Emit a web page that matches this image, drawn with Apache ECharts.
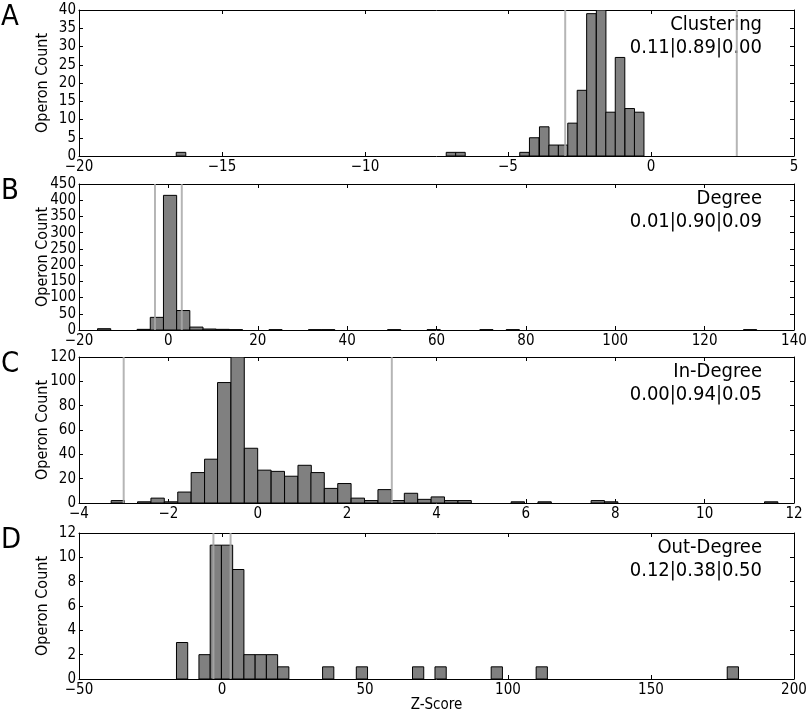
<!DOCTYPE html>
<html>
<head>
<meta charset="utf-8">
<script src="https://cdn.jsdelivr.net/npm/echarts@6/dist/echarts.min.js"></script>
<style>
html,body{margin:0;padding:0;background:#fff;}
#chart{width:810px;height:710px;}
</style>
</head>
<body>
<div id="chart"></div>
<script>
// ---------- DATA ----------
// Panel A: Clustering
const clusterBinWidth = 0.334;
const clusterLefts  = [-16.60, -7.16, -6.83, -4.59, -4.25, -3.90, -3.57, -3.24, -2.91, -2.58, -2.25, -1.91, -1.58, -1.25, -0.91, -0.58];
const clusterCounts = [1, 1, 1, 1, 5, 8, 3, 3, 9, 18, 39, 40, 12, 27, 13, 12];
const clusterThresholds = [-3, 3];
const clusterLabel = ['Clustering', '0.11|0.89|0.00'];

// Panel B: Degree
const degreeBinWidth = 2.95;
const degreeLefts  = [-15.85, -7.0, -4.05, -1.1, 1.85, 4.8, 7.75, 10.7, 13.65, 22.5, 31.35, 34.3, 49.05, 57.9, 69.7, 75.6, 128.7];
const degreeCounts = [4, 2, 39, 415, 60, 9, 3, 2, 1, 1, 1, 1, 1, 1, 1, 1, 1];
const degreeThresholds = [-3, 3];
const degreeLabel = ['Degree', '0.01|0.90|0.09'];

// Panel C: In-Degree
const inBinWidth = 0.2985;
const inLefts  = [-3.28, -2.69, -2.39, -2.09, -1.79, -1.49, -1.19, -0.90, -0.60, -0.30, 0.00, 0.30, 0.60, 0.90, 1.19, 1.49, 1.79, 2.09, 2.39, 2.69, 2.99, 3.28, 3.58, 3.88, 4.18, 4.48, 5.67, 6.27, 7.46, 7.76, 11.34];
const inCounts = [2, 1, 4, 1, 9, 25, 36, 99, 120, 45, 27, 26, 22, 31, 25, 12, 16, 4, 2, 11, 2, 8, 3, 5, 2, 2, 1, 1, 2, 1, 1];
const inThresholds = [-3, 3];
const inLabel = ['In-Degree', '0.00|0.94|0.05'];

// Panel D: Out-Degree
const outBinWidth = 3.93;
const outLefts  = [-15.92, -8.06, -4.13, -0.2, 3.73, 7.66, 11.59, 15.52, 19.45, 35.17, 46.96, 66.61, 74.47, 94.12, 109.84, 176.65];
const outCounts = [3, 2, 11, 11, 9, 2, 2, 2, 1, 1, 1, 1, 1, 1, 1, 1];
const outThresholds = [-3, 3];
const outLabel = ['Out-Degree', '0.12|0.38|0.50'];

// Axis ranges / ticks
const xRanges = [[-20, 5, 5], [-20, 140, 20], [-4, 12, 2], [-50, 200, 50]];
const yRanges = [[0, 40, 5], [0, 450, 50], [0, 120, 20], [0, 12, 2]];
const panelLetters = ['A', 'B', 'C', 'D'];

// ---------- BUILD ----------
const FONT = '"DejaVu Sans Condensed", "DejaVu Sans", sans-serif';
const panels = [
  {lefts: clusterLefts, counts: clusterCounts, w: clusterBinWidth, th: clusterThresholds, label: clusterLabel},
  {lefts: degreeLefts, counts: degreeCounts, w: degreeBinWidth, th: degreeThresholds, label: degreeLabel},
  {lefts: inLefts, counts: inCounts, w: inBinWidth, th: inThresholds, label: inLabel},
  {lefts: outLefts, counts: outCounts, w: outBinWidth, th: outThresholds, label: outLabel}
];
const gridTops = [10, 184, 357, 533];
const gridH = 146;
const gridLeft = 79, gridW = 715;

const fmt = v => String(v).replace('-', '\u2212');

const grids = [], xAxes = [], yAxes = [], series = [], graphics = [];
panels.forEach((p, i) => {
  grids.push({left: gridLeft, width: gridW, top: gridTops[i], height: gridH, show: false,
              containLabel: false, outerBoundsMode: 'none'});
  const [xmin, xmax, xint] = xRanges[i];
  const [ymin, ymax, yint] = yRanges[i];
  const axLine = {show: true, onZero: false, lineStyle: {color: '#000', width: 1}};
  const tick = {show: true, inside: true, length: 4, lineStyle: {color: '#000', width: 1}};
  xAxes.push({
    type: 'value', gridIndex: i, min: xmin, max: xmax, interval: xint, position: 'bottom',
    axisLine: axLine, axisTick: tick, splitLine: {show: false},
    axisLabel: {formatter: fmt, color: '#000', fontFamily: FONT, fontSize: 15, margin: 4, showMinLabel: true, showMaxLabel: true},
    name: i === 3 ? 'Z-Score' : '', nameLocation: 'middle', nameGap: 19, nameMoveOverlap: false,
    nameTextStyle: {color: '#000', fontFamily: FONT, fontSize: 15}
  });
  xAxes.push({
    type: 'value', gridIndex: i, min: xmin, max: xmax, interval: xint, position: 'top',
    axisLine: axLine, axisTick: tick, splitLine: {show: false}, axisLabel: {show: false}
  });
  yAxes.push({
    type: 'value', gridIndex: i, min: ymin, max: ymax, interval: yint, position: 'left',
    axisLine: axLine, axisTick: tick, splitLine: {show: false},
    axisLabel: {color: '#000', fontFamily: FONT, fontSize: 15, margin: 3, showMinLabel: true, showMaxLabel: true},
    name: 'Operon Count', nameLocation: 'middle', nameRotate: 90, nameGap: 28, nameMoveOverlap: false,
    nameTextStyle: {color: '#000', fontFamily: FONT, fontSize: 16}
  });
  yAxes.push({
    type: 'value', gridIndex: i, min: ymin, max: ymax, interval: yint, position: 'right',
    axisLine: axLine, axisTick: tick, splitLine: {show: false}, axisLabel: {show: false}
  });
  const w = p.w;
  series.push({
    type: 'custom', xAxisIndex: 2 * i, yAxisIndex: 2 * i, clip: true, z: 2,
    data: p.lefts.map((l, k) => [l, p.counts[k]]),
    renderItem: function (params, api) {
      const left = api.value(0), c = api.value(1);
      const p0 = api.coord([left, 0]);
      const p1 = api.coord([left + w, c]);
      return {
        type: 'rect',
        shape: {x: p0[0], y: p1[1], width: p1[0] - p0[0], height: p0[1] - p1[1]},
        style: {fill: '#808080', stroke: '#000', lineWidth: 1}
      };
    }
  });
  series.push({
    type: 'custom', xAxisIndex: 2 * i, yAxisIndex: 2 * i, clip: true, z: 3,
    data: p.th.map(t => [t]),
    renderItem: function (params, api) {
      const a = api.coord([api.value(0), ymin]);
      const b = api.coord([api.value(0), ymax]);
      return {
        type: 'line',
        shape: {x1: a[0], y1: a[1], x2: b[0], y2: b[1]},
        style: {stroke: '#a8a8a8', lineWidth: 2, opacity: 0.85}
      };
    }
  });
  graphics.push({
    type: 'text', right: 810 - 762, top: gridTops[i] + 3,
    style: {text: p.label.join('\n'), textAlign: 'right', fill: '#000', font: '20px ' + FONT, lineHeight: 23}
  });
  graphics.push({
    type: 'text', left: 1, top: gridTops[i] - 7,
    style: {text: panelLetters[i], fill: '#000', font: '29px ' + FONT}
  });
});

const chart = echarts.init(document.getElementById('chart'), null, {renderer: 'canvas'});
chart.setOption({
  animation: false,
  backgroundColor: '#fff',
  grid: grids, xAxis: xAxes, yAxis: yAxes, series: series, graphic: graphics
});
</script>
</body>
</html>
